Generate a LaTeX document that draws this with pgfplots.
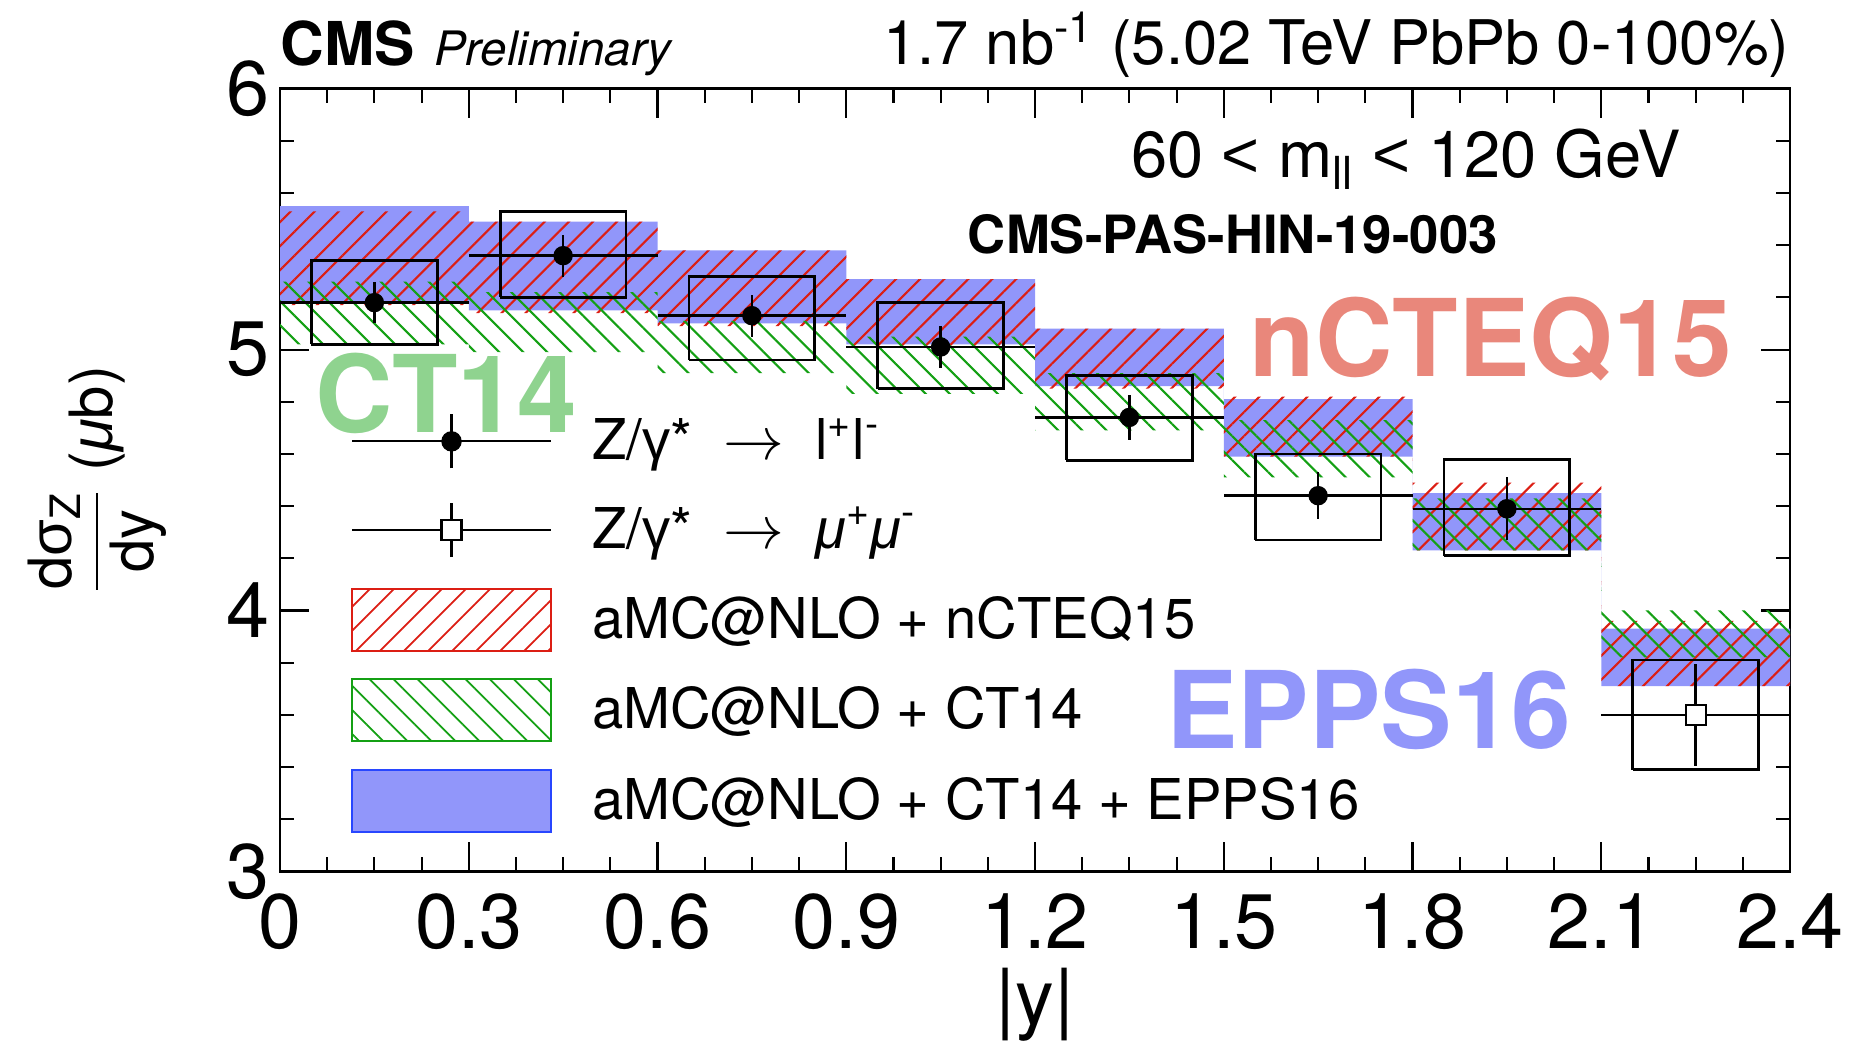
\documentclass[border=0pt]{standalone}
\usepackage{amsmath}
\usepackage{pgfplots}
\usepackage{pgfplotstable}
\pgfplotsset{compat=1.18}
\usepgfplotslibrary{fillbetween}
\usetikzlibrary{patterns.meta}
\usepackage{fontspec}
\setmainfont{TeX Gyre Heros}
\newfontfamily\lib{Liberation Sans}
\definecolor{bandblue}{RGB}{145,150,250}
\definecolor{edgeblue}{RGB}{40,70,255}
\definecolor{hatchred}{RGB}{220,30,20}
\definecolor{hatchgreen}{RGB}{20,160,20}
\definecolor{txtred}{RGB}{233,135,123}
\definecolor{txtgreen}{RGB}{143,211,143}
\definecolor{txtblue}{RGB}{145,150,250}

% data: Z -> l+l- (filled points), stat errors
\pgfplotstableread{
x    y     ex    ey
0.15 5.18  0.15  0.080
0.45 5.36  0.15  0.080
0.75 5.13  0.15  0.080
1.05 5.01  0.15  0.080
1.35 4.74  0.15  0.085
1.65 4.44  0.15  0.090
1.95 4.39  0.15  0.120
}\datall
% data: Z -> mu+mu- (open square)
\pgfplotstableread{
x    y     ex    ey
2.25 3.60  0.15  0.195
}\datamm
% model bands (bin low edge, lower, upper)
\pgfplotstableread{
x    eLo   eHi   nLo   nHi   cLo   cHi
0.0  5.18  5.55  5.17  5.53  5.02  5.26
0.3  5.15  5.49  5.14  5.49  4.99  5.22
0.6  5.10  5.38  5.09  5.38  4.91  5.11
0.9  5.02  5.27  5.01  5.27  4.83  5.05
1.2  4.86  5.08  4.85  5.08  4.69  4.91
1.5  4.59  4.81  4.59  4.82  4.51  4.73
1.8  4.23  4.45  4.23  4.49  4.23  4.43
2.1  3.71  3.93  3.71  3.96  3.82  4.00
2.4  3.71  3.93  3.71  3.96  3.82  4.00
}\bands

\begin{document}
\begin{tikzpicture}
\begin{axis}[
  scale only axis, width=15.1cm, height=7.827cm,
  clip=false,
  xmin=0, xmax=2.4, ymin=3, ymax=6,
  xtick={0,0.3,0.6,0.9,1.2,1.5,1.8,2.1,2.4},
  xticklabels={0,0.3,0.6,0.9,1.2,1.5,1.8,2.1,2.4},
  ytick={3,4,5,6}, yticklabels={3,4,5,6},
  minor x tick num=3, minor y tick num=4,
  tick align=inside,
  major tick length=2.9mm, minor tick length=1.4mm,
  axis line style={line width=0.8pt},
  every tick/.style={black, line width=0.6pt},
  tick label style={font=\fontsize{22}{26}\selectfont},
  xticklabel style={anchor=north, inner sep=0pt, yshift=-2.2mm},
  yticklabel style={anchor=east, inner sep=0pt, xshift=-1mm},
  xlabel={|y|},
  xlabel style={at={(axis description cs:0.5,-0.171)}, anchor=center, font=\fontsize{22}{26}\selectfont},
  ylabel={$\dfrac{\text{d{\lib σ}}_{\text{Z}}}{\text{dy}}$ ({\lib\itshape μ}b)},
  ylabel style={at={(axis description cs:-0.121,0.500)}, anchor=center, font=\fontsize{17}{20}\selectfont},
  legend style={at={(rel axis cs:0.047,0.589)}, anchor=north west, draw=none, fill=none,
    inner sep=0pt, outer sep=0pt, row sep=2.68mm, column sep=4.0mm,
    font=\fontsize{16}{19}\selectfont, nodes={inner sep=0pt}},
  legend cell align=left,
]
% ---- legend entries ----
\addlegendimage{legend image code/.code={
  \path[draw=none,fill=none] (0mm,-3.1mm) rectangle (19.9mm,3.1mm);
  \draw[black,line width=0.6pt] (0mm,0mm) -- (19.9mm,0mm);
  \draw[black,line width=0.7pt] (9.95mm,-2.7mm) -- (9.95mm,2.7mm);
  \fill[black] (9.95mm,0mm) circle (0.95mm);}}
\addlegendentry{Z/{\lib γ}*\ \ $\rightarrow$\ \ l\textsuperscript{+}l\textsuperscript{-}}
\addlegendimage{legend image code/.code={
  \path[draw=none,fill=none] (0mm,-3.1mm) rectangle (19.9mm,3.1mm);
  \draw[black,line width=0.6pt] (0mm,0mm) -- (19.9mm,0mm);
  \draw[black,line width=0.7pt] (9.95mm,-2.7mm) -- (9.95mm,2.7mm);
  \draw[black,fill=white,line width=0.6pt] (8.95mm,-1mm) rectangle (10.95mm,1mm);}}
\addlegendentry{Z/{\lib γ}*\ \ $\rightarrow$\ \ {\lib\itshape μ}\textsuperscript{+}{\lib\itshape μ}\textsuperscript{-}}
\addlegendimage{legend image code/.code={
  \draw[hatchred,line width=0.6pt,pattern={Lines[angle=45,distance=1.7mm,line width=0.5pt]},pattern color=hatchred] (0mm,-3.1mm) rectangle (19.9mm,3.1mm);}}
\addlegendentry{aMC@NLO + nCTEQ15}
\addlegendimage{legend image code/.code={
  \draw[hatchgreen,line width=0.6pt,pattern={Lines[angle=-45,distance=1.7mm,line width=0.5pt]},pattern color=hatchgreen] (0mm,-3.1mm) rectangle (19.9mm,3.1mm);}}
\addlegendentry{aMC@NLO + CT14}
\addlegendimage{legend image code/.code={
  \draw[edgeblue,line width=0.6pt,fill=bandblue] (0mm,-3.1mm) rectangle (19.9mm,3.1mm);}}
\addlegendentry{aMC@NLO + CT14 + EPPS16}

% ---- model bands ----
\addplot[name path=eLo, draw=none, const plot, forget plot] table[x=x,y=eLo]{\bands};
\addplot[name path=eHi, draw=none, const plot, forget plot] table[x=x,y=eHi]{\bands};
\addplot[fill=bandblue, draw=none, forget plot] fill between[of=eHi and eLo];
\addplot[name path=nLo, draw=none, const plot, forget plot] table[x=x,y=nLo]{\bands};
\addplot[name path=nHi, draw=none, const plot, forget plot] table[x=x,y=nHi]{\bands};
\addplot[draw=none, pattern={Lines[angle=45,distance=1.7mm,line width=0.6pt]}, pattern color=hatchred, forget plot] fill between[of=nHi and nLo];
\addplot[name path=cLo, draw=none, const plot, forget plot] table[x=x,y=cLo]{\bands};
\addplot[name path=cHi, draw=none, const plot, forget plot] table[x=x,y=cHi]{\bands};
\addplot[draw=none, pattern={Lines[angle=-45,distance=1.7mm,line width=0.6pt]}, pattern color=hatchgreen, forget plot] fill between[of=cHi and cLo];

% ---- systematic boxes ----
\addplot[black, line width=0.8pt, mark=none, unbounded coords=jump, forget plot] coordinates {
(0.05,5.02)(0.25,5.02)(0.25,5.34)(0.05,5.34)(0.05,5.02)(0.15,nan)
(0.35,5.20)(0.55,5.20)(0.55,5.53)(0.35,5.53)(0.35,5.20)(0.45,nan)
(0.65,4.96)(0.85,4.96)(0.85,5.28)(0.65,5.28)(0.65,4.96)(0.75,nan)
(0.95,4.85)(1.15,4.85)(1.15,5.18)(0.95,5.18)(0.95,4.85)(1.05,nan)
(1.25,4.575)(1.45,4.575)(1.45,4.90)(1.25,4.90)(1.25,4.575)(1.35,nan)
(1.55,4.27)(1.75,4.27)(1.75,4.60)(1.55,4.60)(1.55,4.27)(1.65,nan)
(1.85,4.21)(2.05,4.21)(2.05,4.58)(1.85,4.58)(1.85,4.21)(1.95,nan)
(2.15,3.39)(2.35,3.39)(2.35,3.81)(2.15,3.81)(2.15,3.39)
};

% ---- data points ----
\addplot[black, only marks, mark=*, mark size=0.9mm, forget plot,
  error bars/.cd, x dir=both, x explicit, y dir=both, y explicit, error mark=none,
  error bar style={line width=0.7pt, black}]
  table[x=x, y=y, x error=ex, y error=ey]{\datall};
\addplot[black, only marks, mark=square*, mark size=1mm, mark options={fill=white, draw=black, line width=0.6pt}, forget plot,
  error bars/.cd, x dir=both, x explicit, y dir=both, y explicit, error mark=none,
  error bar style={line width=0.7pt, black}]
  table[x=x, y=y, x error=ex, y error=ey]{\datamm};

% ---- texts ----
\node[anchor=base west, inner sep=0pt] at (rel axis cs:0,1.03)
  {{\fontsize{17.2}{20}\selectfont\bfseries CMS}\hspace{1.9mm}{\fontsize{13.5}{16}\selectfont\itshape Preliminary}};
\node[anchor=base east, inner sep=0pt, font=\fontsize{17.5}{20}\selectfont] at (rel axis cs:1,1.031)
  {1.7 nb\textsuperscript{-1} (5.02 TeV PbPb 0-100\%)};
\node[anchor=base, inner sep=0pt, font=\fontsize{18.5}{22}\selectfont] at (rel axis cs:0.746,0.887)
  {60 {\lib <} m\textsubscript{ll} {\lib <} 120 GeV};
\node[anchor=base, inner sep=0pt, font=\fontsize{15}{18}\selectfont\bfseries] at (rel axis cs:0.631,0.790)
  {CMS-PAS-HIN-19-003};
\node[anchor=base, inner sep=0pt, text=txtred, font=\fontsize{30.5}{36}\selectfont\bfseries] at (rel axis cs:0.802,0.632) {nCTEQ15};
\node[anchor=base, inner sep=0pt, text=txtgreen, font=\fontsize{30.5}{36}\selectfont\bfseries] at (rel axis cs:0.110,0.561) {CT14};
\node[anchor=base, inner sep=0pt, text=txtblue, font=\fontsize{30.5}{36}\selectfont\bfseries] at (rel axis cs:0.721,0.157) {EPPS16};
\end{axis}
\pgfresetboundingbox
\path ([shift={(-2.80cm,-1.836cm)}]current axis.south west) rectangle ([shift={(0.64cm,0.887cm)}]current axis.north east);
\end{tikzpicture}
\end{document}
